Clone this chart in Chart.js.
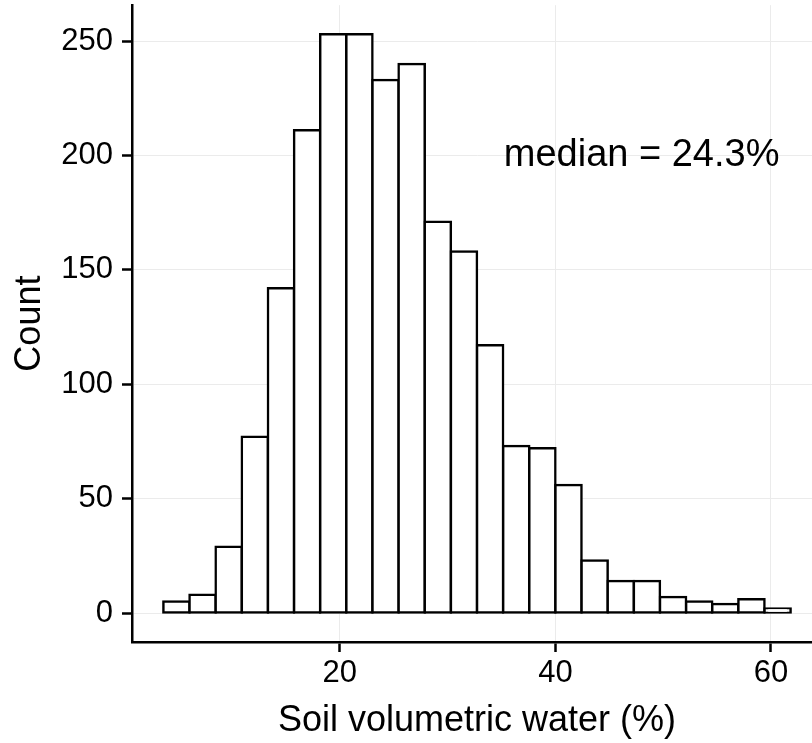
<!DOCTYPE html>
<html>
<head>
<meta charset="utf-8">
<script src="https://cdn.jsdelivr.net/npm/chart.js@4/dist/chart.umd.min.js"></script>
<style>
  html, body { margin: 0; padding: 0; background: #fff; overflow: hidden; }
  #wrap { position: absolute; left: 0; top: 0; }
</style>
</head>
<body>
<div id="wrap"><canvas id="myChart" width="830" height="743"></canvas></div>
<script>
// histogram bins (centres, % soil water) and counts
const binCenters = [4.8375, 7.2625, 9.6875, 12.1125, 14.5375, 16.9625, 19.3875, 21.8125,
  24.2375, 26.6625, 29.0875, 31.5125, 33.9375, 36.3625, 38.7875, 41.2125, 43.6375,
  46.0625, 48.4875, 50.9125, 53.3375, 55.7625, 58.1875, 60.6125];
const counts = [5, 8, 29, 77, 142, 211, 253, 253, 233, 240, 171, 158, 117, 73, 72, 56,
  23, 14, 14, 7, 5, 4, 6, 2];

const xTicks = [20, 40, 60];
const yTicks = [0, 50, 100, 150, 200, 250];
const xRange = [0.715, 64.735];
const yRange = [-12.65, 265.65];

const medianLabel = "median = 24.3%";
const medianPos = { x: 48, y: 200 };

const FONT = "'Liberation Sans', Arial, Helvetica, sans-serif";

const keepTicks = (list) => (scale) => {
  scale.ticks = list.map((v) => ({ value: v }));
};

const annotate = {
  id: "annotate",
  afterDatasetsDraw(chart) {
    const { ctx, scales } = chart;
    ctx.save();
    ctx.font = "38px " + FONT;
    ctx.fillStyle = "#000";
    ctx.textAlign = "center";
    ctx.textBaseline = "middle";
    ctx.fillText(medianLabel, scales.x.getPixelForValue(medianPos.x), scales.y.getPixelForValue(medianPos.y));
    ctx.restore();
  },
};

const data = {
  datasets: [
    {
      data: binCenters.map((c, i) => ({ x: c, y: counts[i] })),
      backgroundColor: "#fff",
      borderColor: "#000",
      borderWidth: 2.5,
      borderSkipped: false,
      inflateAmount: 1.25,
      barPercentage: 1,
      categoryPercentage: 1,
    },
  ],
};

const config = {
  type: "bar",
  data: data,
  plugins: [annotate],
  options: {
    responsive: false,
    animation: false,
    layout: { padding: { top: 5.2, right: 8, left: 0, bottom: 0 } },
    plugins: {
      legend: { display: false },
      tooltip: { enabled: false },
    },
    scales: {
      x: {
        type: "linear",
        offset: false,
        min: xRange[0],
        max: xRange[1],
        afterBuildTicks: keepTicks(xTicks),
        afterFit: (scale) => {
          scale.height = 743 - 642;
          scale.paddingLeft = 0;
          scale.paddingRight = 0;
        },
        grid: {
          offset: false,
          color: "#ebebeb",
          lineWidth: 1,
          tickColor: "#000",
          tickWidth: 2.5,
          tickLength: 10,
        },
        border: { color: "#000", width: 2.5 },
        ticks: {
          color: "#000",
          font: { family: FONT, size: 31 },
          padding: 3,
          maxRotation: 0,
        },
        title: {
          display: true,
          text: "Soil volumetric water (%)",
          color: "#000",
          font: { family: FONT, size: 36 },
          padding: { top: 0, bottom: 0 },
        },
      },
      y: {
        min: yRange[0],
        max: yRange[1],
        afterBuildTicks: keepTicks(yTicks),
        afterFit: (scale) => {
          scale.width = 132;
          scale.paddingTop = 0;
          scale.paddingBottom = 0;
        },
        grid: {
          color: "#ebebeb",
          lineWidth: 1,
          tickColor: "#000",
          tickWidth: 2.5,
          tickLength: 10,
        },
        border: { color: "#000", width: 2.5 },
        ticks: {
          color: "#000",
          font: { family: FONT, size: 31 },
          padding: 9,
        },
        title: {
          display: true,
          text: "Count",
          color: "#000",
          font: { family: FONT, size: 36 },
          padding: { top: 8, bottom: 0 },
        },
      },
    },
  },
};

new Chart(document.getElementById("myChart"), config);
</script>
</body>
</html>
